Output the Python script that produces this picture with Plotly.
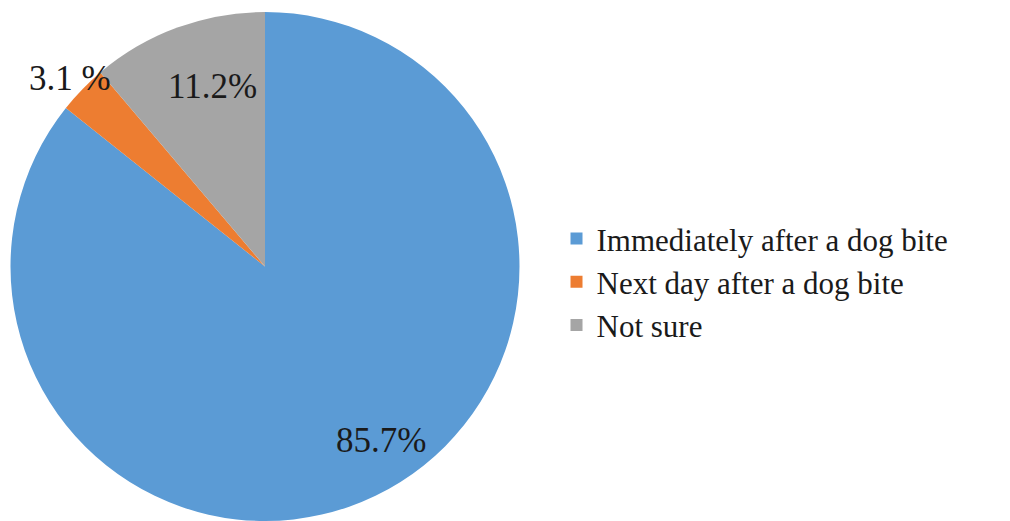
import plotly.graph_objects as go

categories = ["Immediately after a dog bite", "Next day after a dog bite", "Not sure"]
values = [85.7, 3.1, 11.2]
label_texts = ["85.7%", "3.1 %", "11.2%"]
colors = ["#5B9BD5", "#ED7D31", "#A5A5A5"]

W, H = 1010, 521

fig = go.Figure(go.Pie(
    labels=categories,
    values=values,
    sort=False,
    direction="clockwise",
    rotation=0,
    marker=dict(colors=colors, line=dict(width=0)),
    textinfo="none",
    hoverinfo="label+percent",
    domain=dict(x=[10 / W, 520 / W], y=[0, 1]),
))

# label positions (pixel coords in the page)
label_pos = [(381, 439), (70, 68), (212, 76)]
for txt, (px, py) in zip(label_texts, label_pos):
    fig.add_annotation(
        x=px / W, y=1 - py / H, xref="paper", yref="paper",
        text=txt, showarrow=False,
        font=dict(family="Liberation Serif", size=35, color="#1a1a1a"),
        xanchor="center", yanchor="middle",
    )

fig.update_layout(
    width=W, height=H,
    margin=dict(l=0, r=0, t=12, b=0),
    paper_bgcolor="white",
    plot_bgcolor="white",
    showlegend=True,
    legend=dict(
        x=0.551, y=0.470, xanchor="left", yanchor="middle",
        font=dict(family="Liberation Serif", size=31, color="#1a1a1a"),
        tracegroupgap=0, itemsizing="constant",
    ),
)

fig.write_html("out.html")
